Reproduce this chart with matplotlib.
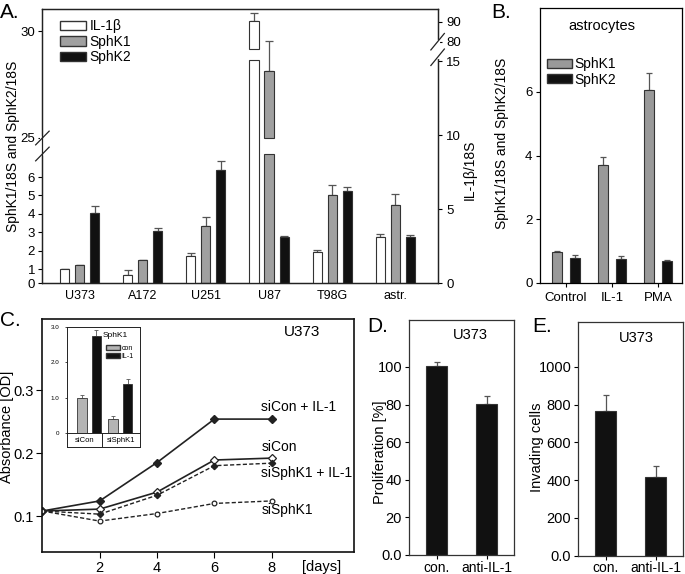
import numpy as np
import matplotlib
matplotlib.use('Agg')
import matplotlib.pyplot as plt
from matplotlib.patches import Patch

plt.rcParams['font.family'] = ['Liberation Sans', 'DejaVu Sans']
plt.rcParams['axes.linewidth'] = 0.9
plt.rcParams['xtick.major.width'] = 0.8
plt.rcParams['ytick.major.width'] = 0.8

W, H = 685, 574

# ---- panel A: glioma cell lines ----
cells = ['U373', 'A172', 'U251', 'U87', 'T98G', 'astr.']
il1b_a = [0.94, 0.57, 1.82, 90.3, 2.12, 3.11]
il1b_a_err = [0.03, 0.29, 0.18, 3.9, 0.10, 0.23]
sphk1_a = [1.2, 1.47, 3.35, 28.15, 5.04, 4.5]
sphk1_a_err = [0.03, 0.02, 0.48, 1.4, 0.53, 0.58]
sphk2_a = [4.04, 3.04, 6.36, 2.74, 5.25, 2.76]
sphk2_a_err = [0.41, 0.18, 0.49, 0.04, 0.23, 0.09]

# ---- panel B: astrocytes ----
treatments = ['Control', 'IL-1', 'PMA']
sphk1_b = [0.97, 3.7, 6.06]
sphk1_b_err = [0.02, 0.24, 0.52]
sphk2_b = [0.79, 0.74, 0.69]
sphk2_b_err = [0.08, 0.10, 0.02]

# ---- panel C: growth curves ----
days = [0, 2, 4, 6, 8]
sicon_il1 = [0.108, 0.124, 0.185, 0.254, 0.254]
sicon = [0.108, 0.111, 0.138, 0.189, 0.192]
sisphk1_il1 = [0.108, 0.103, 0.133, 0.180, 0.184]
sisphk1 = [0.108, 0.092, 0.104, 0.120, 0.124]

# inset
inset_groups = ['siCon', 'siSphK1']
inset_con = [1.0, 0.40]
inset_con_err = [0.07, 0.10]
inset_il1 = [2.74, 1.40]
inset_il1_err = [0.16, 0.14]

# ---- panels D, E ----
conditions = ['con.', 'anti-IL-1']
prolif = [100.5, 80.1]
prolif_err = [2.0, 4.6]
invading = [766, 418]
invading_err = [83, 57]

GRAY = '#a0a0a0'
BLACK = '#111111'
EDGE = '#333333'


def px_axes(fig, left, top, right, bottom):
    return fig.add_axes([left / W, 1 - bottom / H, (right - left) / W, (bottom - top) / H])


def upper_err(ax, x, vals, errs, capsize=3, color='#555555', lw=0.9):
    vals = np.asarray(vals, float)
    errs = np.asarray(errs, float)
    ax.errorbar(x, vals, yerr=[np.zeros_like(errs), errs], fmt='none', ecolor=color,
                elinewidth=lw, capsize=capsize, capthick=lw, zorder=1)


fig = plt.figure(figsize=(W / 100, H / 100), dpi=100)

# ================= A =================
axA = px_axes(fig, 42, 9, 438, 283)
axA2 = axA.twinx()

# piecewise scales (value -> pixels above the x axis)
left_v = [-10, 0, 1, 7.25, 25, 100]
left_p = [-140, 0, 14, 129, 145, 145 + 21.4 * 75]
right_v = [-10, 0, 15.07, 76.35, 200]
right_p = [-146.5, 0, 223, 234, 234 + 2 * 123.65]


def fl(v):
    return np.interp(v, left_v, left_p)


def il(p):
    return np.interp(p, left_p, left_v)


def fr(v):
    return np.interp(v, right_v, right_p)


def ir(p):
    return np.interp(p, right_p, right_v)


axA.set_yscale('function', functions=(fl, il))
axA2.set_yscale('function', functions=(fr, ir))
axA.set_ylim(0, float(il(274)))
axA2.set_ylim(0, float(ir(274)))

xa = np.arange(len(cells))
bw = 0.143
off = 0.238


def broken_bars(ax, x, vals, lo, hi, **kw):
    vals = np.asarray(vals, float)
    ax.bar(x, np.minimum(vals, lo), bw, **kw)
    up = vals > hi
    if up.any():
        ax.bar(x[up], vals[up] - hi, bw, bottom=hi, **kw)


bar_kw = dict(edgecolor=EDGE, linewidth=0.8, zorder=2)
broken_bars(axA, xa, sphk1_a, 7.25, 25, color=GRAY, **bar_kw)
broken_bars(axA, xa + off, sphk2_a, 7.25, 25, color=BLACK, **bar_kw)
broken_bars(axA2, xa - off, il1b_a, 15.07, 76.35, color='white', **bar_kw)
upper_err(axA, xa, sphk1_a, sphk1_a_err, capsize=3)
upper_err(axA, xa + off, sphk2_a, sphk2_a_err, capsize=3)
upper_err(axA2, xa - off, il1b_a, il1b_a_err, capsize=3)

axA.set_xlim(-0.6, 5.68)
axA.set_xticks(xa)
axA.set_xticklabels(cells, fontsize=9)
axA.tick_params(axis='x', length=0, pad=5)
axA.set_yticks([0, 1, 2, 3, 4, 5, 6, 25, 30])
axA.set_yticklabels(['0', '1', '2', '3', '4', '5', '6', '25', '30'])
axA.tick_params(axis='y', direction='out', length=3, labelsize=9.5, pad=2)
axA2.set_yticks([0, 5, 10, 15, 80, 90])
axA2.tick_params(axis='y', direction='out', length=3, labelsize=9.5, pad=3)
axA2.minorticks_off()
axA.minorticks_off()
for ax in (axA, axA2):
    for s in ax.spines.values():
        s.set_color('#222222')

# axis breaks
lo_f, hi_f = fl(7.25) / 274, fl(25) / 274
axA.plot([0, 0], [lo_f, hi_f], transform=axA.transAxes, color='white', lw=3,
         clip_on=False, zorder=6)
for yf in (lo_f, hi_f):
    axA.plot([-0.016, 0.018], [yf - 0.025, yf + 0.025], transform=axA.transAxes,
             color='#222222', lw=0.9, clip_on=False, zorder=7)
lo_r, hi_r = fr(15.07) / 274 + 0.01, fr(80) / 274
axA2.plot([1, 1], [lo_r, hi_r], transform=axA2.transAxes, color='white', lw=3,
          clip_on=False, zorder=6)
for yf in (lo_r, hi_r):
    axA2.plot([0.982, 1.016], [yf - 0.03, yf + 0.03], transform=axA2.transAxes,
              color='#222222', lw=0.9, clip_on=False, zorder=7)

handles = [Patch(facecolor='white', edgecolor=EDGE, label='IL-1β'),
           Patch(facecolor=GRAY, edgecolor=EDGE, label='SphK1'),
           Patch(facecolor=BLACK, edgecolor=EDGE, label='SphK2')]
axA2.legend(handles=handles, loc='upper left', bbox_to_anchor=(0.045, 0.963), frameon=False,
            fontsize=10, handlelength=1.9, handleheight=0.65, handletextpad=0.25,
            labelspacing=0.12, borderpad=0, borderaxespad=0)

fig.text(13 / W, 1 - 146 / H, 'SphK1/18S and SphK2/18S', rotation=90, ha='center',
         va='center', fontsize=10)
fig.text(470 / W, 1 - 170 / H, 'IL-1β/18S', rotation=90, ha='center', va='center', fontsize=10)

# ================= B =================
axB = px_axes(fig, 539.5, 8.3, 681.7, 282.7)
xb = np.arange(len(treatments))
axB.bar(xb - 0.19, sphk1_b, 0.22, color='#999999', edgecolor=EDGE, linewidth=0.8, zorder=2)
axB.bar(xb + 0.2, sphk2_b, 0.22, color=BLACK, edgecolor=EDGE, linewidth=0.8, zorder=2)
upper_err(axB, xb - 0.19, sphk1_b, sphk1_b_err, capsize=2)
upper_err(axB, xb + 0.2, sphk2_b, sphk2_b_err, capsize=2)
axB.set_xlim(-0.58, 2.52)
axB.set_ylim(0, 8.63)
axB.set_xticks(xb)
axB.set_xticklabels(treatments, fontsize=9)
axB.set_yticks([0, 2, 4, 6])
axB.tick_params(direction='out', length=3, labelsize=9.5, pad=2)
axB.tick_params(axis='x', pad=4)
axB.text(0.437, 0.935, 'astrocytes', transform=axB.transAxes, ha='center', va='center',
         fontsize=10.5)
hb = [Patch(facecolor='#999999', edgecolor=EDGE, label='SphK1'),
      Patch(facecolor=BLACK, edgecolor=EDGE, label='SphK2')]
axB.legend(handles=hb, loc='upper left', bbox_to_anchor=(0.055, 0.822), frameon=False,
           fontsize=10, handlelength=1.8, handleheight=0.6, handletextpad=0.15,
           labelspacing=0.1, borderpad=0, borderaxespad=0)
fig.text(502 / W, 1 - 143 / H, 'SphK1/18S and SphK2/18S', rotation=90, ha='center',
         va='center', fontsize=10)

# ================= C =================
axC = px_axes(fig, 42.3, 319, 354, 552.3)
dash = (0, (3, 1.6))
lc = '#222222'
axC.plot(days, sicon_il1, color=lc, lw=1.2, marker='D', ms=3.8, mfc=lc, mec=lc)
axC.plot(days, sicon, color=lc, lw=1.2, marker='D', ms=4.2, mfc='white', mec=lc, mew=0.9)
axC.plot(days, sisphk1_il1, color=lc, lw=1.0, ls=dash, marker='D', ms=3.2, mfc=lc, mec=lc)
axC.plot(days, sisphk1, color=lc, lw=1.0, ls=dash, marker='o', ms=3.4, mfc='white', mec=lc,
         mew=0.9)
axC.set_xlim(0, 10.87)
axC.set_ylim(0.0424, 0.413)
axC.set_xticks([2, 4, 6, 8])
axC.set_yticks([0.1, 0.2, 0.3])
axC.tick_params(direction='out', length=4, labelsize=10.5, pad=2)
for s in axC.spines.values():
    s.set_linewidth(1.2)
    s.set_color('#111111')
labels_c = [('siCon + IL-1', 0.2735), ('siCon', 0.21), ('siSphK1 + IL-1', 0.1687),
            ('siSphK1', 0.1095)]
for txt, yv in labels_c:
    axC.text(7.64, yv, txt, ha='left', va='center', fontsize=10)
axC.text(0.891, 0.944, 'U373', transform=axC.transAxes, ha='right', va='center', fontsize=11)
fig.text(321.7 / W, 1 - 567 / H, '[days]', ha='center', va='center', fontsize=10.5)
fig.text(7 / W, 1 - 427 / H, 'Absorbance [OD]', rotation=90, ha='center', va='center',
         fontsize=10.5)

# inset
axI = px_axes(fig, 67.3, 326.7, 140, 433.3)
axS = px_axes(fig, 67.3, 433.3, 140, 446.7)
xi = np.arange(len(inset_groups))
axI.bar(xi - 0.22, inset_con, 0.31, color='#b4b4b4', edgecolor=EDGE, linewidth=0.6, zorder=2)
axI.bar(xi + 0.25, inset_il1, 0.29, color=BLACK, edgecolor=EDGE, linewidth=0.6, zorder=2)
upper_err(axI, xi - 0.22, inset_con, inset_con_err, capsize=1.5, lw=0.6)
upper_err(axI, xi + 0.25, inset_il1, inset_il1_err, capsize=1.5, lw=0.6)
axI.set_xlim(-0.68, 1.64)
axI.set_ylim(0, 3.0)
axI.set_xticks([])
axI.set_yticks([0, 1, 2, 3])
axI.set_yticklabels(['0', '1.0', '2.0', '3.0'])
axI.tick_params(axis='y', direction='out', length=1.5, width=0.5, labelsize=4.5, pad=4)
axI.text(0.66, 0.915, 'SphK1', transform=axI.transAxes, ha='center', va='center', fontsize=6)
hi_ = [Patch(facecolor='#b4b4b4', edgecolor=EDGE, label='con'),
       Patch(facecolor=BLACK, edgecolor=EDGE, label='IL-1')]
axI.legend(handles=hi_, loc='upper left', bbox_to_anchor=(0.53, 0.83), frameon=False,
           fontsize=5, handlelength=2.0, handleheight=0.8, handletextpad=0.3,
           labelspacing=0.1, borderpad=0, borderaxespad=0)
for s in list(axI.spines.values()) + list(axS.spines.values()):
    s.set_linewidth(0.7)
    s.set_color('#222222')
axS.set_xlim(-0.68, 1.64)
axS.set_ylim(0, 1)
axS.set_xticks([])
axS.set_yticks([])
axS.axvline(0.42, color='#222222', lw=0.7)
axS.text((-0.68 + 0.42) / 2, 0.45, inset_groups[0], ha='center', va='center', fontsize=5.5)
axS.text((0.42 + 1.64) / 2, 0.45, inset_groups[1], ha='center', va='center', fontsize=5.5)

# ================= D =================
axD = px_axes(fig, 409, 320, 514.3, 555)
xd = np.arange(len(conditions))
axD.bar(xd, prolif, 0.42, color=BLACK, edgecolor=EDGE, linewidth=0.8, zorder=2)
upper_err(axD, xd, prolif, prolif_err, capsize=2.5)
axD.set_xlim(-0.56, 1.55)
axD.set_ylim(0, 125)
axD.set_xticks(xd)
axD.set_xticklabels(conditions, fontsize=10)
axD.set_yticks([0, 20, 40, 60, 80, 100])
axD.set_yticklabels(['0.0', '20', '40', '60', '80', '100'])
axD.tick_params(direction='out', length=3, labelsize=10.5, pad=2)
axD.tick_params(axis='x', pad=1, labelsize=10)
axD.text(0.58, 0.935, 'U373', transform=axD.transAxes, ha='center', va='center', fontsize=10.5)
fig.text(380 / W, 1 - 452 / H, 'Proliferation [%]', rotation=90, ha='center', va='center',
         fontsize=10.5)

# ================= E =================
axE = px_axes(fig, 578.3, 321.7, 683.3, 555.7)
axE.bar(xd, invading, 0.42, color=BLACK, edgecolor=EDGE, linewidth=0.8, zorder=2)
upper_err(axE, xd, invading, invading_err, capsize=2.5)
axE.set_xlim(-0.55, 1.55)
axE.set_ylim(0, 1239)
axE.set_xticks(xd)
axE.set_xticklabels(conditions, fontsize=10)
axE.set_yticks([0, 200, 400, 600, 800, 1000])
axE.set_yticklabels(['0.0', '200', '400', '600', '800', '1000'])
axE.tick_params(direction='out', length=3, labelsize=10.5, pad=2)
axE.tick_params(axis='x', pad=1, labelsize=10)
axE.text(0.55, 0.93, 'U373', transform=axE.transAxes, ha='center', va='center', fontsize=10.5)
fig.text(537 / W, 1 - 447 / H, 'Invading cells', rotation=90, ha='center', va='center',
         fontsize=10.5)

for ax in (axD, axE):
    for s in ax.spines.values():
        s.set_color('#333333')

# panel letters
for letter, x, y in [('A.', 0, 3), ('B.', 491, 3), ('C.', 0, 311), ('D.', 367, 317),
                     ('E.', 532, 317)]:
    fig.text(x / W, 1 - y / H, letter, ha='left', va='top', fontsize=15)

fig.savefig('out.png', dpi=100)
